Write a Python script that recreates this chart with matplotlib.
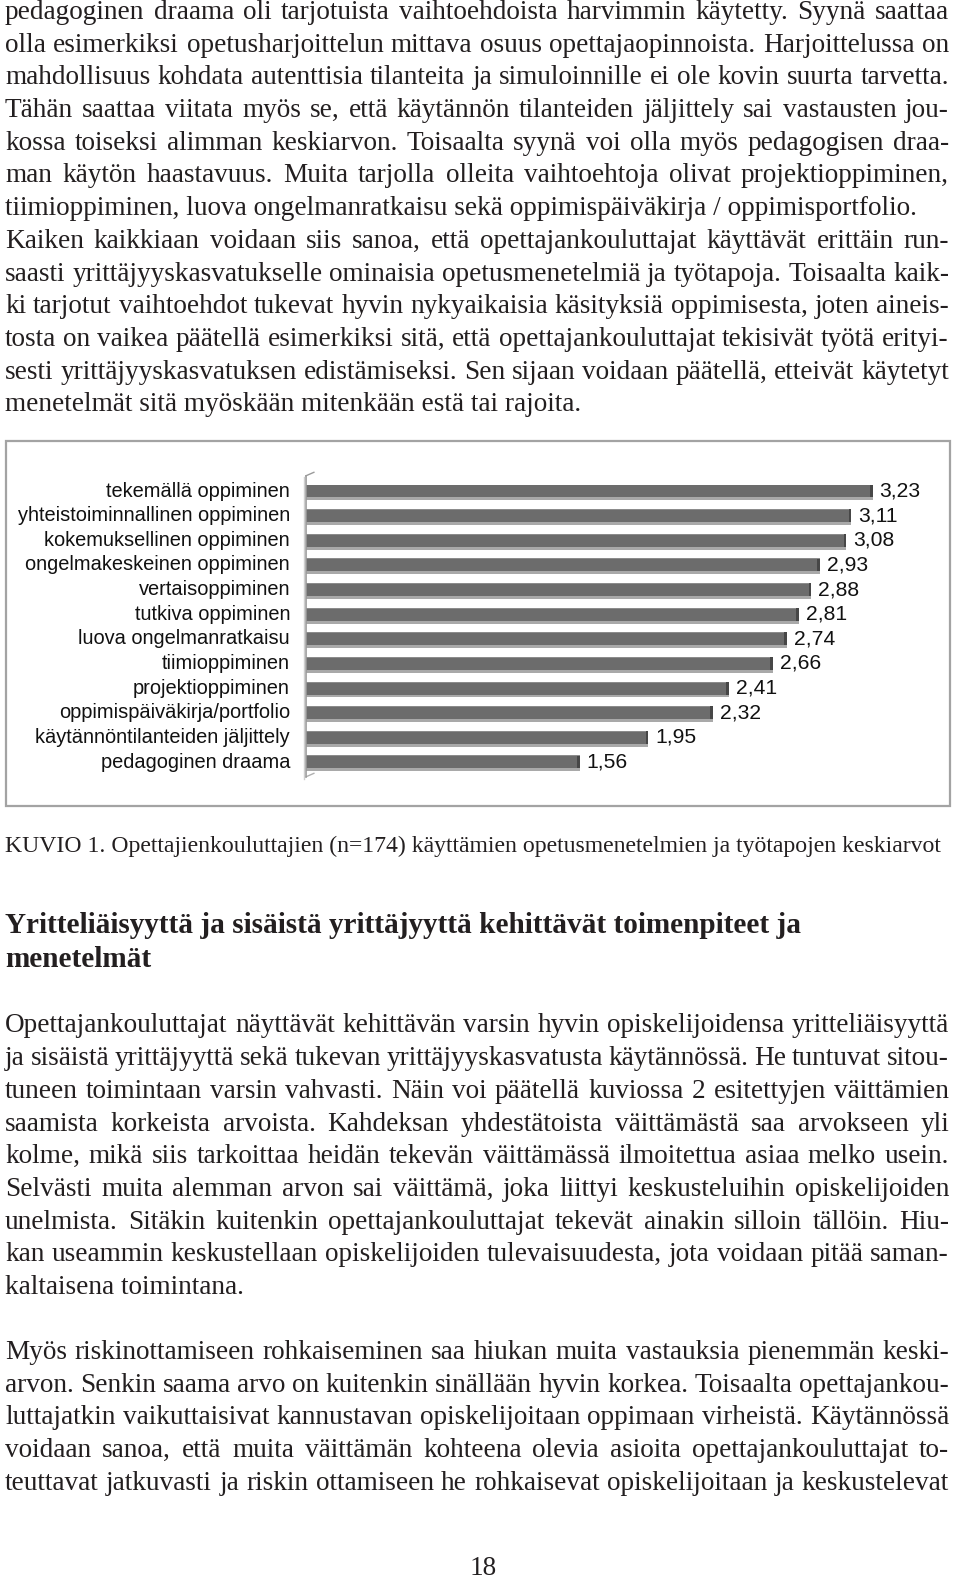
import matplotlib
matplotlib.use("Agg")
import matplotlib.pyplot as plt
from matplotlib.patches import Rectangle

# chart data
categories = [
    "tekemällä oppiminen",
    "yhteistoiminnallinen oppiminen",
    "kokemuksellinen oppiminen",
    "ongelmakeskeinen oppiminen",
    "vertaisoppiminen",
    "tutkiva oppiminen",
    "luova ongelmanratkaisu",
    "tiimioppiminen",
    "projektioppiminen",
    "oppimispäiväkirja/portfolio",
    "käytännöntilanteiden jäljittely",
    "pedagoginen draama",
]
values = [3.23, 3.11, 3.08, 2.93, 2.88, 2.81, 2.74, 2.66, 2.41, 2.32, 1.95, 1.56]

# page text (each list = one paragraph, one string per printed line)
para_top = [
    "pedagoginen draama oli tarjotuista vaihtoehdoista harvimmin käytetty. Syynä saattaa",
    "olla esimerkiksi opetusharjoittelun mittava osuus opettajaopinnoista. Harjoittelussa on",
    "mahdollisuus kohdata autenttisia tilanteita ja simuloinnille ei ole kovin suurta tarvetta.",
    "Tähän saattaa viitata myös se, että käytännön tilanteiden jäljittely sai vastausten jou-",
    "kossa toiseksi alimman keskiarvon. Toisaalta syynä voi olla myös pedagogisen draa-",
    "man käytön haastavuus. Muita tarjolla olleita vaihtoehtoja olivat projektioppiminen,",
    "tiimioppiminen, luova ongelmanratkaisu sekä oppimispäiväkirja / oppimisportfolio.",
]
para_top2 = [
    "Kaiken kaikkiaan voidaan siis sanoa, että opettajankouluttajat käyttävät erittäin run-",
    "saasti yrittäjyyskasvatukselle ominaisia opetusmenetelmiä ja työtapoja. Toisaalta kaik-",
    "ki tarjotut vaihtoehdot tukevat hyvin nykyaikaisia käsityksiä oppimisesta, joten aineis-",
    "tosta on vaikea päätellä esimerkiksi sitä, että opettajankouluttajat tekisivät työtä erityi-",
    "sesti yrittäjyyskasvatuksen edistämiseksi. Sen sijaan voidaan päätellä, etteivät käytetyt",
    "menetelmät sitä myöskään mitenkään estä tai rajoita.",
]
caption = "KUVIO 1. Opettajienkouluttajien (n=174) käyttämien opetusmenetelmien ja työtapojen keskiarvot"
heading = ["Yritteliäisyyttä ja sisäistä yrittäjyyttä kehittävät toimenpiteet ja", "menetelmät"]
para_b1 = [
    "Opettajankouluttajat näyttävät kehittävän varsin hyvin opiskelijoidensa yritteliäisyyttä",
    "ja sisäistä yrittäjyyttä sekä tukevan yrittäjyyskasvatusta käytännössä. He tuntuvat sitou-",
    "tuneen toimintaan varsin vahvasti. Näin voi päätellä kuviossa 2 esitettyjen väittämien",
    "saamista korkeista arvoista. Kahdeksan yhdestätoista väittämästä saa arvokseen yli",
    "kolme, mikä siis tarkoittaa heidän tekevän väittämässä ilmoitettua asiaa melko usein.",
    "Selvästi muita alemman arvon sai väittämä, joka liittyi keskusteluihin opiskelijoiden",
    "unelmista. Sitäkin kuitenkin opettajankouluttajat tekevät ainakin silloin tällöin. Hiu-",
    "kan useammin keskustellaan opiskelijoiden tulevaisuudesta, jota voidaan pitää saman-",
    "kaltaisena toimintana.",
]
para_b2 = [
    "Myös riskinottamiseen rohkaiseminen saa hiukan muita vastauksia pienemmän keski-",
    "arvon. Senkin saama arvo on kuitenkin sinällään hyvin korkea. Toisaalta opettajankou-",
    "luttajatkin vaikuttaisivat kannustavan opiskelijoitaan oppimaan virheistä. Käytännössä",
    "voidaan sanoa, että muita väittämän kohteena olevia asioita opettajankouluttajat to-",
    "teuttavat jatkuvasti ja riskin ottamiseen he rohkaisevat opiskelijoitaan ja keskustelevat",
]
page_no = "18"

W, H = 960, 1582
INK = "#231f20"
SERIF = ["Liberation Serif", "DejaVu Serif"]
SANS = ["Liberation Sans Narrow", "Liberation Sans", "DejaVu Sans"]
LEFT, RIGHT = 5, 949
LEAD = 32.7

fig = plt.figure(figsize=(W / 100, H / 100), dpi=100)
page = fig.add_axes([0, 0, 1, 1])
page.set_xlim(0, W)
page.set_ylim(H, 0)
page.axis("off")
renderer = fig.canvas.get_renderer()


def text_width(s, size, family, weight="normal"):
    t = page.text(0, 0, s, fontsize=size, family=family, fontweight=weight)
    w = t.get_window_extent(renderer=renderer).width
    t.remove()
    return w


def fit_size(s, width, family, weight="normal"):
    return 10 * width / text_width(s, 10, family, weight)


def draw_line(s, y, size, justify=True, weight="normal"):
    if not justify:
        page.text(LEFT, y, s, fontsize=size, family=SERIF, fontweight=weight,
                  color=INK, va="baseline", ha="left")
        return
    words = s.split(" ")
    widths = [text_width(w, size, SERIF, weight) for w in words]
    gap = (RIGHT - LEFT - sum(widths)) / (len(words) - 1)
    x = LEFT
    for w, wd in zip(words, widths):
        page.text(x, y, w, fontsize=size, family=SERIF, fontweight=weight,
                  color=INK, va="baseline", ha="left")
        x += wd + gap


def draw_para(lines, y0, size, last_justified=False):
    for i, s in enumerate(lines):
        last = i == len(lines) - 1
        draw_line(s, y0 + i * LEAD, size, justify=(not last) or last_justified)


body = fit_size(para_top2[-1], 578, SERIF)

draw_para(para_top, 19, body)
draw_para(para_top2, 19 + 7 * LEAD, body)

# figure frame
page.add_patch(Rectangle((6, 441), 944, 365, fill=False, edgecolor="#a3a3a3", lw=1.6))

cap_size = fit_size(caption, 939, SERIF)
page.text(LEFT, 852, caption, fontsize=cap_size, family=SERIF, color=INK, va="baseline")

head_size = fit_size(heading[0], 800, SERIF, "bold")
page.text(LEFT, 933, heading[0], fontsize=head_size, family=SERIF, fontweight="bold",
          color=INK, va="baseline")
page.text(LEFT, 967, heading[1], fontsize=head_size, family=SERIF, fontweight="bold",
          color=INK, va="baseline")

draw_para(para_b1, 1032.5, body)
draw_para(para_b2, 1359, body, last_justified=True)

page.text(483, 1581, page_no, fontsize=body, family=SERIF, color=INK,
          va="bottom", ha="center")

# bar chart
scale = 175.4  # px per unit
x0, x1 = 306, 940
y_top, y_bot = 470, 780
ax = fig.add_axes([x0 / W, 1 - y_bot / H, (x1 - x0) / W, (y_bot - y_top) / H])
ax.set_xlim(0, (x1 - x0) / scale)
ax.set_ylim(11.73, -0.854)
ax.axis("off")

ypos = list(range(len(values)))
bars = ax.barh(ypos, values, height=0.52, color="#6c6c6c", zorder=3)
ax.barh([y + 0.31 for y in ypos], values, height=0.14, color="#a9a9a9", zorder=2)
ax.barh([y - 0.245 for y in ypos], values, height=0.04, color="#8c8c8c", zorder=4)
ax.barh(ypos, [0.014] * len(values), left=[v - 0.014 for v in values], height=0.52,
        color="#474747", zorder=4)

lab_size = fit_size("yhteistoiminnallinen oppiminen", 274, SANS)
for y, c in zip(ypos, categories):
    ax.annotate(c, (0, y), xytext=(-11.5, 0), textcoords="offset points",
                ha="right", va="center", fontsize=lab_size, family=SANS, color="#111111")
ax.bar_label(bars, labels=[f"{v:.2f}".replace(".", ",") for v in values],
             padding=5, fontsize=lab_size + 0.8, family=SANS, color="#111111")

# axis wall
ax.plot([0, 0], [-0.62, 11.6], color="#9a9a9a", lw=1.2, clip_on=False, zorder=5)
ax.plot([-0.014, -0.014], [-0.55, 11.68], color="#cfcfcf", lw=1.0, clip_on=False, zorder=5)
ax.plot([0, 0.045], [-0.62, -0.76], color="#9a9a9a", lw=1.0, clip_on=False)
ax.plot([0, 0.045], [11.6, 11.46], color="#b0b0b0", lw=1.0, clip_on=False)

fig.savefig("out.png", dpi=100)
